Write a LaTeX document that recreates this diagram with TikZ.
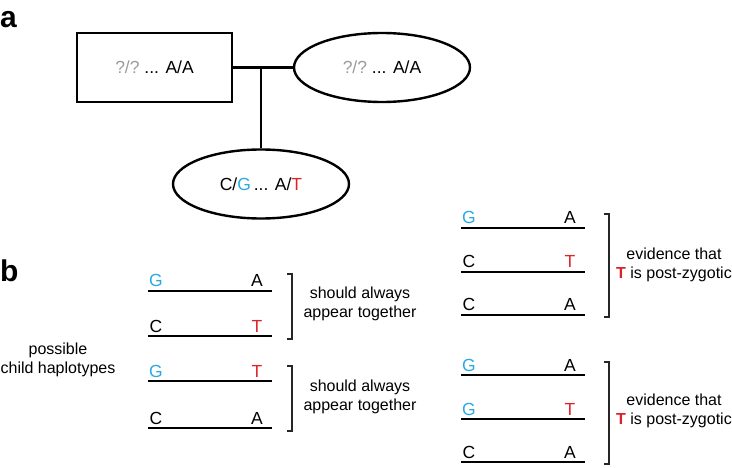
\documentclass[tikz,border=0pt]{standalone}
\usepackage{fontspec}
\setmainfont{Liberation Sans}
\usetikzlibrary{shapes.geometric}

\definecolor{gblue}{RGB}{40,170,225}
\definecolor{tred}{RGB}{220,35,40}
\definecolor{qgray}{RGB}{155,155,155}
\newcommand{\Gb}{\textcolor{gblue}{G}}
\newcommand{\Tr}{\textcolor{tred}{T}}
\newcommand{\Qq}{\textcolor{qgray}{?/?}}

\begin{document}
\begin{tikzpicture}[x=1pt,y=-1pt,
  every node/.style={inner sep=0pt},
  base/.style={font=\fontsize{17.5}{20}\selectfont},
  note/.style={font=\fontsize{16}{19}\selectfont, align=center},
  panel/.style={font=\fontsize{30}{30}\selectfont\bfseries, anchor=base west},
  person/.style={draw, line width=2.4pt, font=\fontsize{17.5}{20}\selectfont},
  hap/.style={line width=2pt},
  brk/.style={line width=1.1pt, black!85}]
\useasboundingbox (0,0) rectangle (732,468);

% panel a : pedigree
\node[panel] (la) at (0,28) {a};
\node[person, rectangle, minimum width=155pt, minimum height=69pt] (father) at (154.5,67.5) {\Qq\ ... A/A};
\node[person, ellipse, minimum width=176pt, minimum height=69pt] (mother) at (382,67.5) {\Qq\ ... A/A};
\node[person, ellipse, minimum width=176pt, minimum height=69pt] (child) at (261,184) {C/\Gb\,... A/\Tr};
\coordinate (mate) at (child.north |- father.east);
\draw[line width=2.4pt] (father.east) -- (mother.west);
\draw[line width=2.4pt] (mate) -- (child.north);

% panel b : haplotypes
\node[panel] (lb) at (0,282) {b};
\node[note] (poss) at (58,360) {possible\\child haplotypes};

\foreach \x/\y/\l/\r in {148/291/\Gb/A, 148/336/C/\Tr, 148/381/\Gb/\Tr, 148/428/C/A,
    461/228/\Gb/A, 461/272/C/\Tr, 461/315/C/A, 461/375/\Gb/A, 461/419/\Gb/\Tr, 461/462/C/A}
{
  \draw[hap] (\x,\y) -- ++(124,0);
  \node[base, anchor=base] at (\x+8,\y-4) {\l};
  \node[base, anchor=base] at (\x+109,\y-4) {\r};
}

% brackets
\foreach \x/\a/\b in {292/274/339, 292/366/431, 609/214/317, 609/362/464}
  \draw[brk] (\x-5,\a) -- (\x,\a) -- (\x,\b) -- (\x-5,\b);

\node[note] (tog1) at (360,304) {should always\\appear together};
\node[note] (tog2) at (360,397) {should always\\appear together};
\node[note] (post1) at (674,265) {evidence that\\\textbf{\Tr} is post-zygotic};
\node[note] (post2) at (674,411) {evidence that\\\textbf{\Tr} is post-zygotic};
\end{tikzpicture}
\end{document}
